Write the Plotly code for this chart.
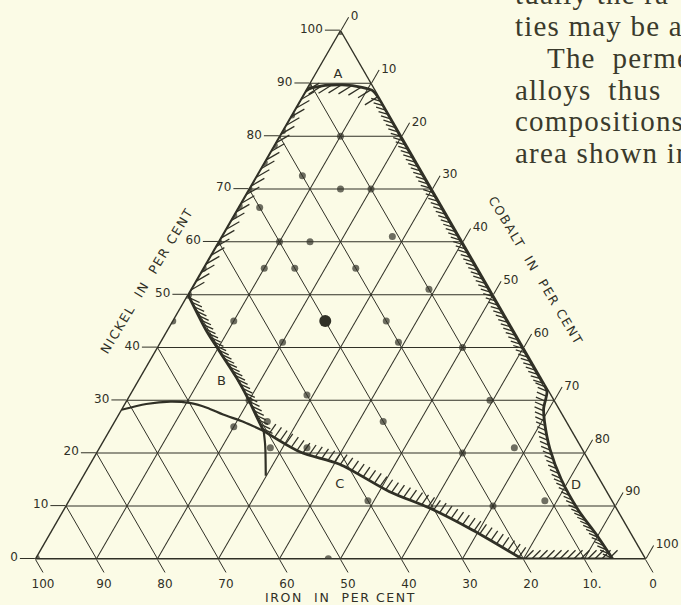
import numpy as np
import plotly.graph_objects as go

INK = "#303026"
PAPER = "#fbfbe6"

# ---- measured alloys (per cent nickel / cobalt; iron makes up the rest) ----
dot_ni = [100, 0, 0,
          89.5, 84, 81, 78.3, 75, 70, 66.8, 65, 60, 55, 50, 45,
          80, 72.5, 70, 70, 66.5, 60, 60, 61, 55, 55, 55, 51,
          45, 45, 41, 41, 40, 31, 30, 26, 25, 21, 21, 26,
          20, 21, 11, 10, 30, 11]
dot_co = [0, 0, 48,
          0, 0, 0, 0, 0, 0, 0, 0, 0, 0, 0, 0,
          10, 7.5, 15, 20, 3.5, 10, 15, 28, 10, 15, 25, 39,
          35, 10, 20, 39, 50, 29, 20, 25, 20, 28, 34, 44,
          60, 68, 49, 70, 59.5, 78]
dot_size = [9, 9, 7,
            7, 7, 7, 7, 7, 7, 7, 7, 7, 7, 8, 7,
            7, 7, 7, 7, 7, 7, 7, 7, 7, 7, 7, 7,
            7, 7, 7, 7, 7, 7, 7, 7, 7, 7, 7, 7,
            7, 7, 7, 7, 7, 7]
big_ni = [45]
big_co = [25]

# ---- boundary of the high-permeability field, piece by piece ----
arc_a_ni = [88.9, 89.6, 89.7, 89.25, 88.7, 87.0]
arc_a_co = [0, 2.7, 5.5, 8.9, 10.8, 12.9]
right_ni = [87.0, 80, 60, 40, 33]
right_co = [12.9, 19.8, 39.8, 59.8, 66.8]
curve_d_ni = [33, 31.7, 28.4, 25.9, 20.7, 15, 9.2, 4.8, 0]
curve_d_co = [66.8, 68.0, 69.1, 70.5, 74.0, 78.7, 84.4, 89.4, 94.6]
bottom_ni = [0, 0]
bottom_co = [94.6, 79.7]
curve_c_ni = [0, 5.4, 9.6, 12.7, 17.9, 20.2, 24.2]
curve_c_co = [79.7, 69.0, 59.8, 51.7, 40.9, 33.3, 25.3]
curve_b_ni = [24.2, 26.9, 30.1, 34.2, 39.3, 43.2, 50.0]
curve_b_co = [25.3, 22.8, 19.9, 15.9, 10.5, 6.4, 0]
left_ni = [50.0, 60, 70, 80, 88.9]
left_co = [0, 0, 0, 0, 0]

# ---- second phase boundary and the short vertical branch ----
outer_c_ni = [28.2, 29.3, 29.75, 29.5, 28.6, 27.3, 25.9, 24.2]
outer_c_co = [0, 3.5, 7.25, 10.5, 13.8, 17.1, 21.2, 25.3]
branch_ni = [24.2, 21.5, 15.7]
branch_co = [25.3, 26.9, 29.9]

# field letters
letter_txt = ["A", "B", "C", "D"]
letter_ni = [91.6, 33.6, 14.0, 13.8]
letter_co = [3.8, 13.7, 42.9, 81.7]

ticks = list(range(0, 101, 10))
iron_text = ["0", "10.", "20", "30", "40", "50", "60", "70", "80", "90", "100"]

# ---- layout geometry (pixels) ----
W, H = 681, 605
TRI_W = 610.0
CX, TOP = 340.5, 30.5
TRI_H = TRI_W * np.sqrt(3) / 2
S3 = np.sqrt(3) / 2


def to_xy(ni, co):
    a = np.asarray(ni, float) / 100.0
    c = np.asarray(co, float) / 100.0
    return c + 0.5 * a, S3 * a


def to_tern(x, y):
    a = y / S3
    c = x - 0.5 * a
    return a * 100.0, c * 100.0


def hatch(ni, co, spacing, length, angle, start=0.5):
    """Short strokes along a boundary; spacing/length in pixels, angle in degrees."""
    x, y = to_xy(ni, co)
    seg = np.hypot(np.diff(x), np.diff(y))
    s = np.concatenate([[0], np.cumsum(seg)])
    sp = spacing / TRI_W
    t = np.arange(start * sp, s[-1], sp)
    px = np.interp(t, s, x)
    py = np.interp(t, s, y)
    L = length / TRI_W
    ex = px + L * np.cos(np.radians(angle))
    ey = py + L * np.sin(np.radians(angle))
    a0, c0 = to_tern(px, py)
    a1, c1 = to_tern(ex, ey)
    aa, cc = [], []
    for i in range(len(t)):
        aa += [a0[i], a1[i], None]
        cc += [c0[i], c1[i], None]
    return aa, cc


fig = go.Figure()


def line(ni, co, width, shape="spline"):
    fig.add_trace(go.Scatterternary(
        a=ni, c=co, mode="lines", hoverinfo="skip", showlegend=False,
        line=dict(color=INK, width=width, shape=shape, smoothing=0.8)))


def strokes(ni, co, spacing, length, angle, width=1.3):
    aa, cc = hatch(ni, co, spacing, length, angle)
    fig.add_trace(go.Scatterternary(
        a=aa, c=cc, mode="lines", hoverinfo="skip", showlegend=False,
        line=dict(color=INK, width=width)))


# hatching on the inner side of the field boundary
strokes(arc_a_ni, arc_a_co, 10, 15, 212)
strokes(right_ni, right_co, 5, 10, 163)
strokes(curve_d_ni, curve_d_co, 5, 10, 157)
strokes(bottom_ni, bottom_co, 7, 12, 45)
strokes(curve_c_ni, curve_c_co, 6.5, 12, 55)
strokes(curve_b_ni, curve_b_co, 5, 11, -25)
strokes(left_ni, left_co, 10, 16, 30)

# boundary lines
line(arc_a_ni, arc_a_co, 2.8)
line(right_ni, right_co, 2.8, "linear")
line(curve_d_ni, curve_d_co, 2.8)
line(bottom_ni, bottom_co, 2.8, "linear")
line(curve_c_ni, curve_c_co, 2.8)
line(curve_b_ni, curve_b_co, 2.8)
line(left_ni, left_co, 2.8, "linear")
line(outer_c_ni, outer_c_co, 2.2)
line(branch_ni, branch_co, 2.2)

# alloy points
fig.add_trace(go.Scatterternary(
    a=dot_ni, c=dot_co, mode="markers", hoverinfo="skip", showlegend=False,
    marker=dict(color=INK, size=dot_size, line=dict(width=0))))
fig.add_trace(go.Scatterternary(
    a=big_ni, c=big_co, mode="markers", hoverinfo="skip", showlegend=False,
    marker=dict(color=INK, size=12, line=dict(width=0))))

# field letters
fig.add_trace(go.Scatterternary(
    a=letter_ni, c=letter_co, mode="text", text=letter_txt, hoverinfo="skip",
    showlegend=False, textfont=dict(family="DejaVu Sans", size=13, color=INK)))

axis = dict(
    tickvals=ticks, ticks="outside", ticklen=15, tickwidth=1.3, tickcolor=INK,
    showline=True, linecolor=INK, linewidth=1.4,
    showgrid=True, gridcolor=INK, gridwidth=1.3,
    tickfont=dict(family="DejaVu Sans", size=12, color=INK),
    layer="below traces", title=dict(text=""), min=0,
)

dx0 = (CX - TRI_W / 2) / W
dx1 = (CX + TRI_W / 2) / W
dy1 = 1 - TOP / H
dy0 = 1 - (TOP + TRI_H) / H

fig.update_layout(
    width=W, height=H, margin=dict(l=0, r=0, t=0, b=0),
    paper_bgcolor=PAPER, plot_bgcolor=PAPER,
    ternary=dict(
        sum=100, bgcolor=PAPER,
        domain=dict(x=[dx0, dx1], y=[dy0 - 0.0005, dy1 + 0.0005]),
        aaxis=dict(axis, ticktext=[str(v) for v in ticks]),
        baxis=dict(axis, ticktext=iron_text),
        caxis=dict(axis, ticktext=[str(v) for v in ticks]),
    ),
)

ann = []
title_font = dict(family="DejaVu Sans", size=12.5, color=INK)


def spaced(s):
    return '<span style="letter-spacing:1.6px">' + s + "</span>"


ann.append(dict(text=spaced("NICKEL  IN  PER CENT"), x=146 / W, y=1 - 281 / H, textangle=-59,
                xanchor="center", yanchor="middle",
                showarrow=False, font=title_font, xref="paper", yref="paper"))
ann.append(dict(text=spaced("COBALT  IN  PER CENT"), x=536 / W, y=1 - 270 / H, textangle=59,
                xanchor="center", yanchor="middle",
                showarrow=False, font=title_font, xref="paper", yref="paper"))
ann.append(dict(text=spaced("IRON  IN  PER CENT"), x=340 / W, y=1 - 597 / H,
                xanchor="center", yanchor="middle",
                showarrow=False, font=title_font, xref="paper", yref="paper"))

# running text of the page beside the diagram (justified lines, hence the wider gaps)
NB = "\u00a0"
body = [("tually the ra", 513, -6),
        ("ties may be a", 513, 26),
        ("The" + NB + " perme", 545, 58),
        ("alloys" + NB + " thus", 513, 90),
        ("compositions", 513, 121),
        ("area shown in", 513, 153)]
for txt, x, y in body:
    styled = '<span style="letter-spacing:1.2px">' + txt + "</span>"
    ann.append(dict(text=styled, x=x / W, y=1 - y / H, xanchor="left", yanchor="middle",
                    showarrow=False, xref="paper", yref="paper",
                    font=dict(family="Liberation Serif", size=29, color="#3a3a2c")))
fig.update_layout(annotations=ann)

fig.write_html("out.html")
